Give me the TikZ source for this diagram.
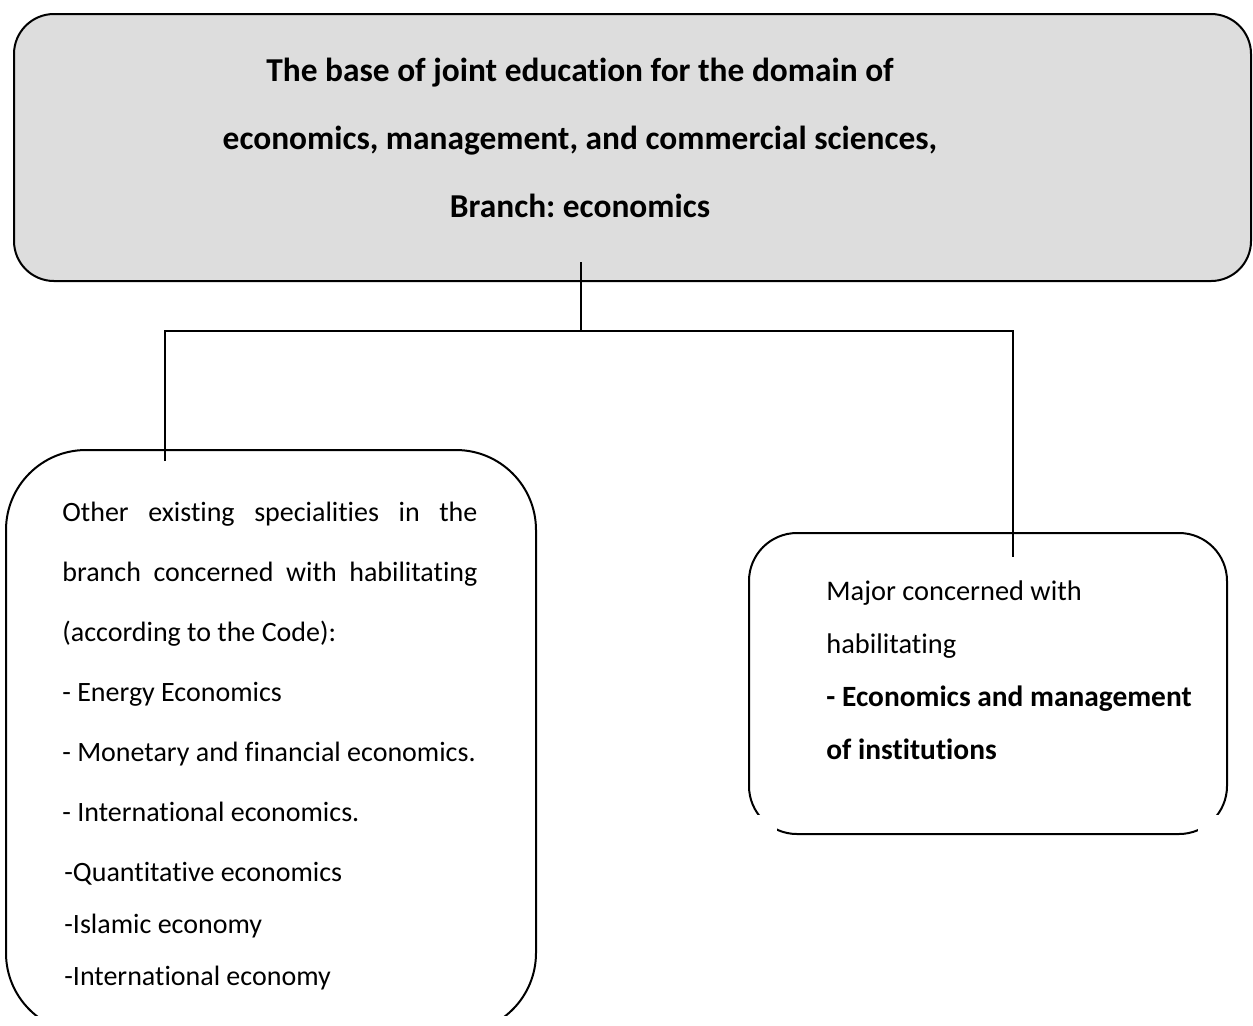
\documentclass[tikz,border=0pt]{standalone}
\usepackage{fontspec}
\setmainfont{Carlito}[Ligatures=CommonOff]

\definecolor{basegray}{RGB}{221,221,221}

\tikzset{
  box/.style={draw, line width=1pt, rounded corners=#1, inner sep=0pt, anchor=north west},
  link/.style={line width=1pt},
  txt/.style={inner sep=0pt, anchor=north west},
}

\begin{document}
\frenchspacing
\begin{tikzpicture}[x=0.5pt, y=-0.5pt]
  \useasboundingbox (0,0) rectangle (1253,1025);

  % the common base
  \node[box=20pt, fill=basegray, minimum width=618.5pt, minimum height=133.5pt] (base) at (13,13) {};
  \node[txt, anchor=north, align=center, font=\bfseries\fontsize{16.7}{34}\selectfont] (basetext) at (580,58)
    {The base of joint education for the domain of\\
     economics, management, and commercial sciences,\\
     Branch: economics};

  % the two branches, the left one runs off the page
  \begin{scope}
    \clip (0,0) rectangle (1253,1015);
    \node[box=40pt, minimum width=265pt, minimum height=291.5pt] (others) at (5,449) {};
  \end{scope}
  \node[box=24pt, minimum width=239pt, minimum height=150.5pt] (major) at (748,532) {};
  \fill[white] (752,815) rectangle (777,840);
  \fill[white] (1198,815) rectangle (1230,840);

  \node[txt, font=\fontsize{14}{30}\selectfont] (otherstext) at (62,502)
    {\parbox[t]{207.5pt}{\hyphenpenalty=10000
     Other existing specialities in the\linebreak
     branch concerned with habilitating\linebreak
     (according to the Code):\newline
     - Energy Economics\newline
     - Monetary and financial economics.\newline
     - International economics.\newline
     \hspace*{1pt}-Quantitative economics\par
     \fontsize{14}{26}\selectfont
     \hspace*{1pt}-Islamic economy\newline
     \hspace*{1pt}-International economy}};

  \node[txt, align=left, font=\fontsize{14.2}{26.5}\selectfont] (majortext) at (826,580)
    {Major concerned with\\
     habilitating\\
     \textbf{\fontsize{14.7}{26.5}\selectfont - Economics and management}\\
     \textbf{\fontsize{14.7}{26.5}\selectfont of institutions}};

  % connectors
  \coordinate (trunk) at (581,262);
  \coordinate (fork) at (581,331);
  \coordinate (lfork) at (165,331);
  \coordinate (rfork) at (1013,331);
  \coordinate (lend) at (165,461);
  \coordinate (rend) at (1013,557);
  \draw[link] (trunk) -- (fork);
  \draw[link] (lend) -- (lfork) -- (rfork) -- (rend);
\end{tikzpicture}
\end{document}
